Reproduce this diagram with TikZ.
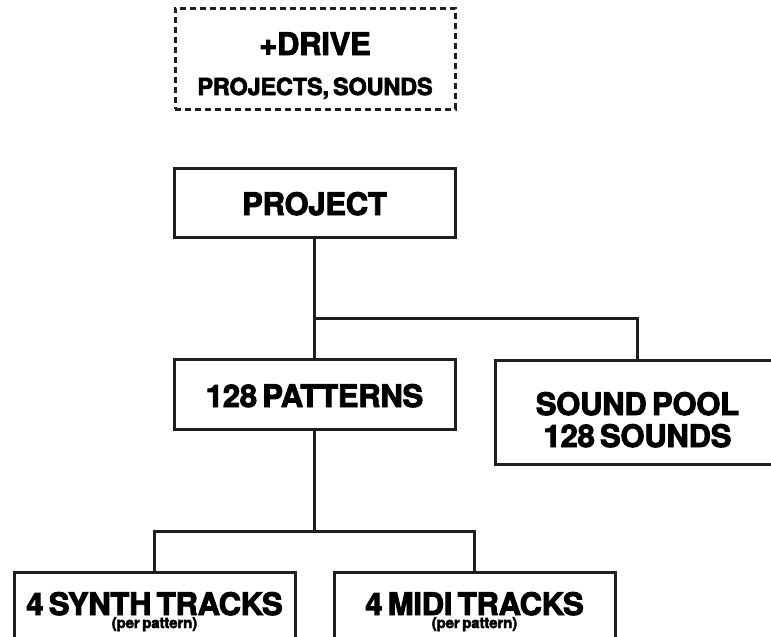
\documentclass[tikz,border=0pt]{standalone}
\usepackage{fontspec}
\setmainfont{TeX Gyre Heros}[BoldFeatures={FakeBold=3, LetterSpace=-0.8}]
\newcommand\gros[1]{\bfseries\fontsize{31}{#1}\selectfont}% corps 31
\newcommand\petit[1]{\fontsize{#1}{#1}\selectfont\serre}
\newcommand\serre{\spaceskip=0.17em\relax}% espaces serres

\begin{document}
\begin{tikzpicture}[x=1pt,y=-1pt,
        trait/.style={line width=3pt, draw=black!88, line join=miter},%epaisseur des traits
        boite/.style={trait, rectangle, inner sep=0pt, align=center, text width=281pt, anchor=base,
            font=\gros{32}},%les cadres
        pointille/.style={boite, line width=3pt, dash pattern=on 6pt off 4pt, text width=280pt}]%cadre du haut
    \useasboundingbox (0,0) rectangle (771,637);
    \clip (0,0) rectangle (771,637);

    \node[pointille, text height=47pt, text depth=54pt, font=\gros{40}] (drive) at (315,55)
        {+DRIVE\\{\petit{23.5}PROJECTS, SOUNDS}};

    \node[boite, text height=47pt, text depth=22pt] (project) at (314.5,215) {PROJECT};
    \node[boite, text height=48pt, text depth=22pt] (patterns) at (314.5,407) {\serre 128 PATTERNS};
    \node[boite, text width=285pt, text height=55pt, text depth=49pt] (pool) at (637.5,415)
        {\serre SOUND POOL\\128 SOUNDS};

    \node[boite, text height=43pt, text depth=60pt, font=\gros{13}] (synth) at (154.5,615)
        {\serre 4 SYNTH TRACKS\\{\petit{15}(per pattern)}};
    \node[boite, text height=43pt, text depth=60pt, font=\gros{13}] (midi) at (474.5,615)
        {\serre 4 MIDI TRACKS\\{\petit{15}(per pattern)}};

    % liaisons
    \draw[trait] (project.south) -- (patterns.north);
    \draw[trait] (project.south) ++(0,80) -| (pool.north);
    \draw[trait] (patterns.south) -- ++(0,101) coordinate (fourche);
    \draw[trait] (fourche) -| (synth.north);
    \draw[trait] (fourche) -| (midi.north);
\end{tikzpicture}
\end{document}
